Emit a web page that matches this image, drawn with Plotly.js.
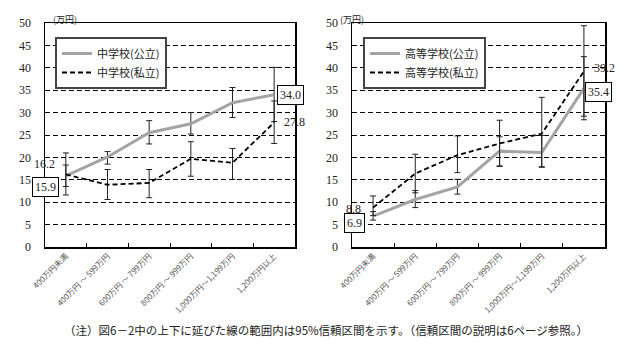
<!DOCTYPE html>
<html><head><meta charset="utf-8">
<script src="https://cdn.plot.ly/plotly-3.0.1.min.js"></script>
<style>html,body{margin:0;padding:0;background:#fff;}#chart{width:621px;height:354px;}</style>
</head><body><div id="chart"></div>
<script>
var categories = ["400万円未満", "400万円 ～ 599万円", "600万円 ～ 799万円", "800万円 ～ 999万円", "1,000万円～1,199万円", "1,200万円以上"];

// 中学校
var juniorPublic = [15.9, 20.1, 25.5, 27.5, 32.2, 34.0];
var juniorPublicUpper = [18.3, 21.3, 28.2, 30.0, 35.6, 40.1];
var juniorPublicLower = [13.5, 18.5, 23.0, 25.2, 28.9, 28.0];
var juniorPrivate = [16.2, 13.9, 14.3, 19.7, 18.8, 27.8];
var juniorPrivateUpper = [21.0, 17.3, 17.3, 23.5, 22.0, 32.6];
var juniorPrivateLower = [11.6, 10.6, 11.0, 15.8, 15.1, 23.1];

// 高等学校
var highPublic = [6.9, 10.6, 13.4, 21.4, 21.1, 35.4];
var highPublicUpper = [7.9, 12.6, 15.1, 24.6, 24.9, 42.5];
var highPublicLower = [6.0, 8.8, 11.8, 18.1, 17.8, 28.4];
var highPrivate = [8.8, 16.4, 20.5, 23.1, 25.3, 39.2];
var highPrivateUpper = [11.4, 20.7, 24.8, 28.3, 33.4, 49.4];
var highPrivateLower = [7.0, 12.1, 16.6, 18.0, 17.9, 29.2];

var yTicks = [0, 5, 10, 15, 20, 25, 30, 35, 40, 45, 50];

function diff(a, b) { return a.map(function (v, i) { return +(v - b[i]).toFixed(2); }); }
function errBar(mid, up, lo) {
  return {type: 'data', symmetric: false, array: diff(up, mid), arrayminus: diff(mid, lo),
          color: '#222', thickness: 1, width: 3};
}

var serif = 'Liberation Serif, Noto Sans CJK JP, serif';
var jp = 'Noto Sans CJK JP, sans-serif';

var traces = [
  {x: categories, y: juniorPublic, name: '中学校(公立)', type: 'scatter', mode: 'lines',
   line: {color: '#a4a4a4', width: 3}, error_y: errBar(juniorPublic, juniorPublicUpper, juniorPublicLower),
   xaxis: 'x', yaxis: 'y', legend: 'legend'},
  {x: categories, y: juniorPrivate, name: '中学校(私立)', type: 'scatter', mode: 'lines',
   line: {color: '#000', width: 1.8, dash: '5px,3px'}, error_y: errBar(juniorPrivate, juniorPrivateUpper, juniorPrivateLower),
   xaxis: 'x', yaxis: 'y', legend: 'legend'},
  {x: categories, y: highPublic, name: '高等学校(公立)', type: 'scatter', mode: 'lines',
   line: {color: '#a4a4a4', width: 3}, error_y: errBar(highPublic, highPublicUpper, highPublicLower),
   xaxis: 'x2', yaxis: 'y2', legend: 'legend2'},
  {x: categories, y: highPrivate, name: '高等学校(私立)', type: 'scatter', mode: 'lines',
   line: {color: '#000', width: 1.8, dash: '5px,3px'}, error_y: errBar(highPrivate, highPrivateUpper, highPrivateLower),
   xaxis: 'x2', yaxis: 'y2', legend: 'legend2'}
];

function xAxis(domain, anchor) {
  return {domain: domain, anchor: anchor, type: 'category', range: [-0.5, 5.5],
    showline: true, linecolor: '#000', linewidth: 1.5, mirror: true,
    ticks: 'inside', tickson: 'boundaries', ticklen: 4, tickcolor: '#000',
    tickangle: -45, tickfont: {family: jp, size: 8, color: '#555'}, showgrid: false, zeroline: false};
}
function yAxis(domain, anchor) {
  return {domain: domain, anchor: anchor, range: [0, 50], tickvals: yTicks,
    showline: true, linecolor: '#000', linewidth: 1.5, mirror: true,
    ticks: '', ticklabelstandoff: 10, tickfont: {family: serif, size: 12, color: '#222'},
    showgrid: true, gridcolor: '#000', gridwidth: 1, griddash: '5px,3px', zeroline: false};
}

var yd = [1 - 247 / 354, 1 - 23 / 354];

function lbl(text, xref, yref, x, y, xs, ys, box) {
  var a = {text: text, xref: xref, yref: yref, x: x, y: y, xshift: xs, yshift: ys, showarrow: false,
    font: {family: serif, size: 12, color: '#222'}};
  if (box) { a.bordercolor = '#000'; a.borderwidth = 1; a.bgcolor = '#fff'; a.borderpad = 2; }
  return a;
}

var layout = {
  width: 621, height: 354, margin: {l: 0, r: 0, t: 0, b: 0},
  paper_bgcolor: '#fff', plot_bgcolor: '#fff', showlegend: true,
  xaxis: xAxis([45 / 621, 295 / 621], 'y'),
  yaxis: yAxis(yd, 'x'),
  xaxis2: xAxis([352 / 621, 605 / 621], 'y2'),
  yaxis2: yAxis(yd, 'x2'),
  legend: {x: 55 / 621, y: 1 - 37 / 354, xanchor: 'left', yanchor: 'top', bgcolor: '#fff',
    bordercolor: '#444', borderwidth: 2, font: {family: jp, size: 11, color: '#222'},
    tracegroupgap: 0, itemwidth: 30},
  legend2: {x: 363 / 621, y: 1 - 37 / 354, xanchor: 'left', yanchor: 'top', bgcolor: '#fff',
    bordercolor: '#444', borderwidth: 2, font: {family: jp, size: 11, color: '#222'},
    tracegroupgap: 0, itemwidth: 30},
  annotations: [
    {text: '(万円)', xref: 'paper', yref: 'paper', x: 51 / 621, y: 1 - 11 / 354, showarrow: false,
     font: {family: jp, size: 9, color: '#222'}},
    {text: '(万円)', xref: 'paper', yref: 'paper', x: 352 / 621, y: 1 - 11 / 354, showarrow: false,
     font: {family: jp, size: 9, color: '#222'}},
    lbl(juniorPrivate[0].toFixed(1), 'x', 'y', 0, juniorPrivate[0], -21, 10, false),
    lbl(juniorPublic[0].toFixed(1), 'x', 'y', 0, juniorPublic[0], -20, -11, true),
    lbl(juniorPublic[5].toFixed(1), 'x', 'y', 5, juniorPublic[5], 16, 0, true),
    lbl(juniorPrivate[5].toFixed(1), 'x', 'y', 5, juniorPrivate[5], 20, 0, false),
    lbl(highPrivate[0].toFixed(1), 'x2', 'y2', 0, highPrivate[0], -20, -1, false),
    lbl(highPublic[0].toFixed(1), 'x2', 'y2', 0, highPublic[0], -19, -7, true),
    lbl(highPublic[5].toFixed(1), 'x2', 'y2', 5, highPublic[5], 15, -4, true),
    lbl(highPrivate[5].toFixed(1), 'x2', 'y2', 5, highPrivate[5], 21, 3, false),
    {text: '（注）図6－2中の上下に延びた線の範囲内は95%信頼区間を示す。（信頼区間の説明は6ページ参照。）',
     xref: 'paper', yref: 'paper', x: 326 / 621, y: 1 - 340 / 354, showarrow: false,
     font: {family: jp, size: 11.5, color: '#222'}}
  ]
};

Plotly.newPlot('chart', traces, layout, {staticPlot: true});
</script></body></html>
